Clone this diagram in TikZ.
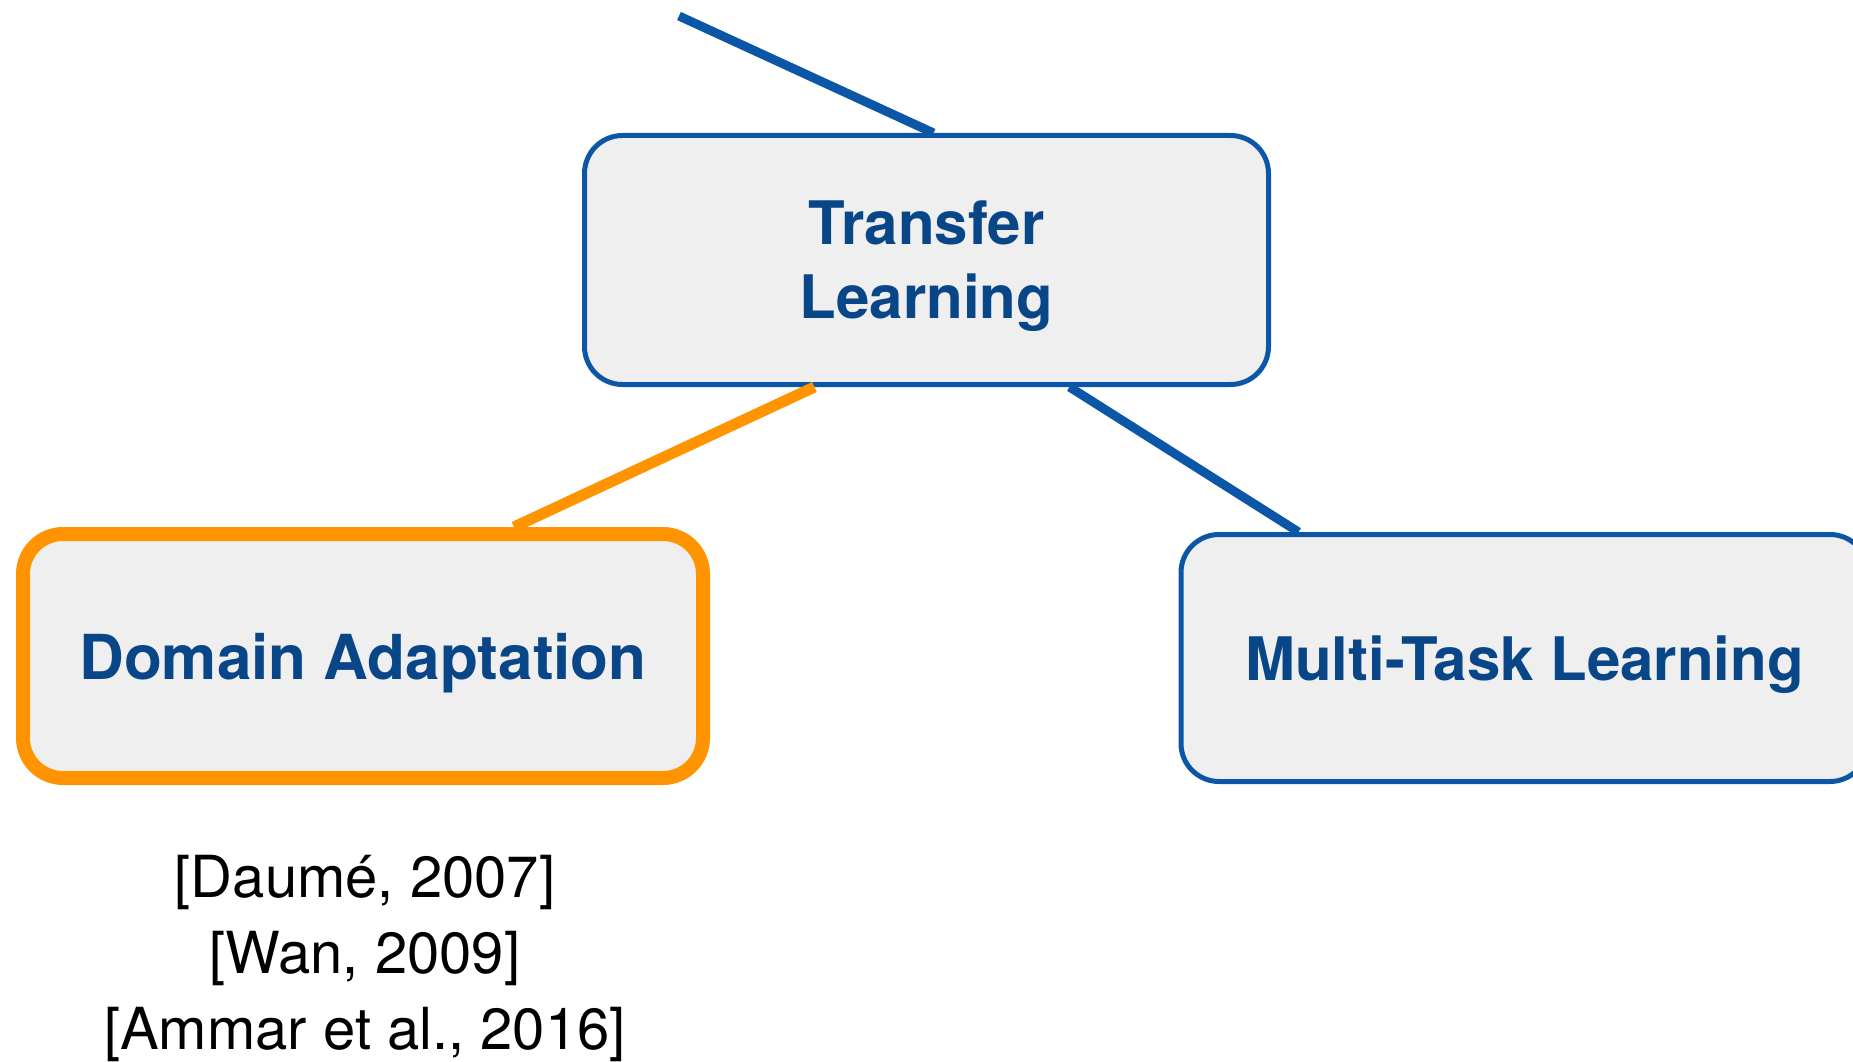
\documentclass[tikz,border=0pt]{standalone}
\usepackage{fontspec}
\setmainfont{TeX Gyre Heros}
\usetikzlibrary{calc}
\definecolor{linkblue}{RGB}{12,86,168}
\definecolor{labelblue}{RGB}{8,70,136}
\definecolor{hiorange}{RGB}{255,148,0}
\definecolor{boxfill}{RGB}{239,239,239}
\tikzset{
  topicbox/.style={draw=linkblue, line width=5pt, fill=boxfill, rounded corners=38pt,
    inner sep=0pt, align=center, text=labelblue, text depth=0pt,
    font=\fontsize{60}{74}\selectfont\bfseries},
  focusbox/.style={topicbox, draw=hiorange, line width=14pt, rounded corners=40pt,
    font=\fontsize{62}{74}\selectfont\bfseries},
  bluelink/.style={draw=linkblue, line width=9pt},
  orangelink/.style={draw=hiorange, line width=11pt},
  refs/.style={align=center, inner sep=0pt, text=black,
    font=\fontsize{58}{76}\selectfont}
}
\begin{document}
\begin{tikzpicture}[x=1pt, y=-1pt]
  \useasboundingbox (0,0) rectangle (1853,1062);
  \clip (0,0) rectangle (1853,1062);

  % the three topic boxes
  \node[topicbox, minimum width=684pt, minimum height=249pt] (tl) at (926.5,260) {Transfer\\Learning};
  \node[focusbox, minimum width=680pt, minimum height=244pt] (da) at (363,656) {Domain Adaptation};
  \node[topicbox, minimum width=687pt, minimum height=247pt] (mt) at (1524.5,658) {Multi-Task Learning};

  % references listed under the highlighted box (anchored on the last baseline)
  \node[refs, anchor=base] (cite) at (365,1049) {[Daumé, 2007]\\{}[Wan, 2009]\\{}[Ammar et al., 2016]};

  % connectors
  \coordinate (parent) at (679,16);
  \draw[bluelink] (parent) -- ([xshift=7pt]tl.north);
  \draw[orangelink] ([xshift=-112pt]tl.south) -- ([xshift=151pt]da.north);
  \draw[bluelink] ([xshift=143pt]tl.south) -- ([xshift=-226pt]mt.north);
\end{tikzpicture}
\end{document}
